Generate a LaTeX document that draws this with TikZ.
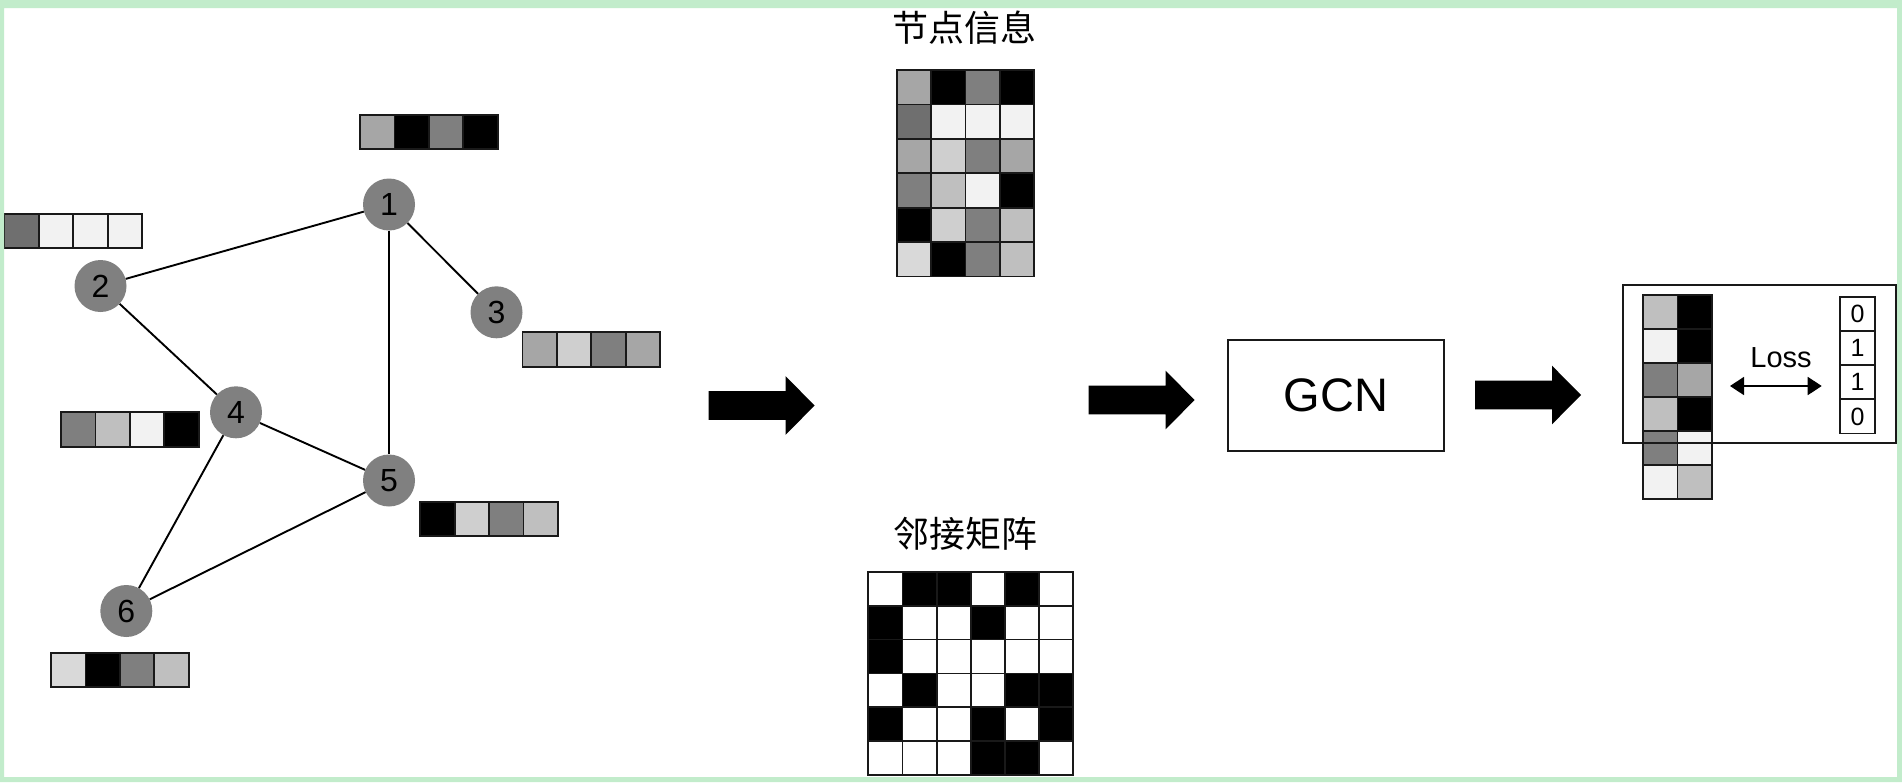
\documentclass[tikz,border=0pt]{standalone}
\usepackage{fontspec}
\setmainfont{Liberation Sans}
\newfontfamily\cjk{Noto Sans CJK SC}
\usetikzlibrary{arrows.meta}
\definecolor{gA6}{HTML}{A6A6A6}
\definecolor{g7F}{HTML}{7F7F7F}
\definecolor{g6F}{HTML}{6F6F6F}
\definecolor{gF2}{HTML}{F2F2F2}
\definecolor{gCF}{HTML}{CFCFCF}
\definecolor{gBF}{HTML}{BFBFBF}
\definecolor{gD9}{HTML}{D9D9D9}
\definecolor{nodegray}{HTML}{808080}
\definecolor{framegreen}{HTML}{C2ECCB}
% row of cells: x, y, colour list (braced list or macro), cell size
\newcommand\cellrow[4]{%
  \foreach \c [count=\i from 0] in #3{%
    \draw[cell, fill=\c] ({#1+\i*#4},{#2}) rectangle ++(#4,#4);}}
\begin{document}
\begin{tikzpicture}[x=1pt,y=-1pt,
  cell/.style={draw=black!90, line width=1.8pt},
  gnode/.style={circle, fill=nodegray, minimum size=52pt, inner sep=0pt,
    font=\fontsize{32}{36}\selectfont},
  edge/.style={line width=1.9pt, black},
  title/.style={font=\cjk\fontsize{36}{42}\selectfont, inner sep=0pt},
  boxnode/.style={draw=black!90, line width=1.8pt, inner sep=0pt},
  vcell/.style={draw=black!90, line width=1.7pt, minimum width=35pt,
    minimum height=34.2pt, inner sep=0pt, font=\fontsize{25}{28}\selectfont},
  lossarrow/.style={line width=1.9pt,
    {Triangle[length=14pt,width=18pt]}-{Triangle[length=14pt,width=18pt]}},
  blockarrow/.pic={\fill[black] (0,-14.3) -- (77,-14.3) -- (77,-29.3)
    -- (106,0) -- (77,29.3) -- (77,14.3) -- (0,14.3) -- cycle;}
]
\useasboundingbox (0,0) rectangle (1902,782);
\fill[white] (0,0) rectangle (1902,782);

% ---------- graph ----------
\node[gnode] (n1) at (389,204.5) {1};
\node[gnode] (n2) at (100.5,286) {2};
\node[gnode] (n3) at (496.5,312.3) {3};
\node[gnode] (n4) at (236,412.3) {4};
\node[gnode] (n5) at (389,480.5) {5};
\node[gnode] (n6) at (126.3,611) {6};
\draw[edge] (n1) -- (n2);
\draw[edge] (n1) -- (n3);
\draw[edge] (n1) -- (n5);
\draw[edge] (n2) -- (n4);
\draw[edge] (n4) -- (n5);
\draw[edge] (n4) -- (n6);
\draw[edge] (n5) -- (n6);

% feature vectors
\cellrow{360}{114.7}{{gA6,black,g7F,black}}{34.4}
\cellrow{4.5}{213.8}{{g6F,gF2,gF2,gF2}}{34.4}
\cellrow{522.5}{332.3}{{gA6,gCF,g7F,gA6}}{34.4}
\cellrow{61}{412.3}{{g7F,gBF,gF2,black}}{34.4}
\cellrow{420.2}{501.7}{{black,gCF,g7F,gBF}}{34.4}
\cellrow{51}{652.7}{{gD9,black,g7F,gBF}}{34.4}

% ---------- node information matrix ----------
\node[title] (t1) at (964,28) {节点信息};
\foreach \row [count=\r from 0] in {%
  {gA6,black,g7F,black},{g6F,gF2,gF2,gF2},{gA6,gCF,g7F,gA6},%
  {g7F,gBF,gF2,black},{black,gCF,g7F,gBF},{gD9,black,g7F,gBF}}{%
  \cellrow{896.7}{70+\r*34.4}{\row}{34.4}}

% ---------- adjacency matrix ----------
\node[title] (t2) at (965,534) {邻接矩阵};
\foreach \row [count=\r from 0] in {%
  {white,black,black,white,black,white},%
  {black,white,white,black,white,white},%
  {black,white,white,white,white,white},%
  {white,black,white,white,black,black},%
  {black,white,white,black,white,black},%
  {white,white,white,black,black,white}}{%
  \cellrow{868.3}{571.7+\r*33.9}{\row}{34.15}}

% ---------- block arrows ----------
\pic (a1) at (708.6,405.5) {blockarrow};
\pic (a2) at (1088.6,400) {blockarrow};
\pic (a3) at (1475,395) {blockarrow};

% ---------- GCN ----------
\node[boxnode, minimum width=215.7pt, minimum height=110.7pt,
  font=\fontsize{47}{52}\selectfont] (gcn) at (1336.2,395.3) {GCN};

% ---------- result ----------
\foreach \row [count=\r from 0] in {%
  {gBF,black},{gF2,black},{g7F,gA6},{gBF,black},{g7F,gF2},{gF2,gBF}}{%
  \cellrow{1643.3}{295+\r*34}{\row}{34.2}}
\node[boxnode, minimum width=273pt, minimum height=158.3pt] (res)
  at (1759.2,364.2) {};
\node[vcell] (v1) at (1857.5,313.8) {0};
\node[vcell] (v2) at (1857.5,348) {1};
\node[vcell] (v3) at (1857.5,382.2) {1};
\node[vcell] (v4) at (1857.5,416.4) {0};
\node[inner sep=0pt, anchor=base, font=\fontsize{29}{32}\selectfont]
  (loss) at (1781,367.3) {Loss};
\coordinate (lossL) at (1730,386);
\coordinate (lossR) at (1821.7,386);
\draw[lossarrow] (lossL) -- (lossR);

% ---------- frame ----------
\fill[framegreen, even odd rule] (0,0) rectangle (1902,782)
  (4,8) rectangle (1897,777);
\end{tikzpicture}
\end{document}
